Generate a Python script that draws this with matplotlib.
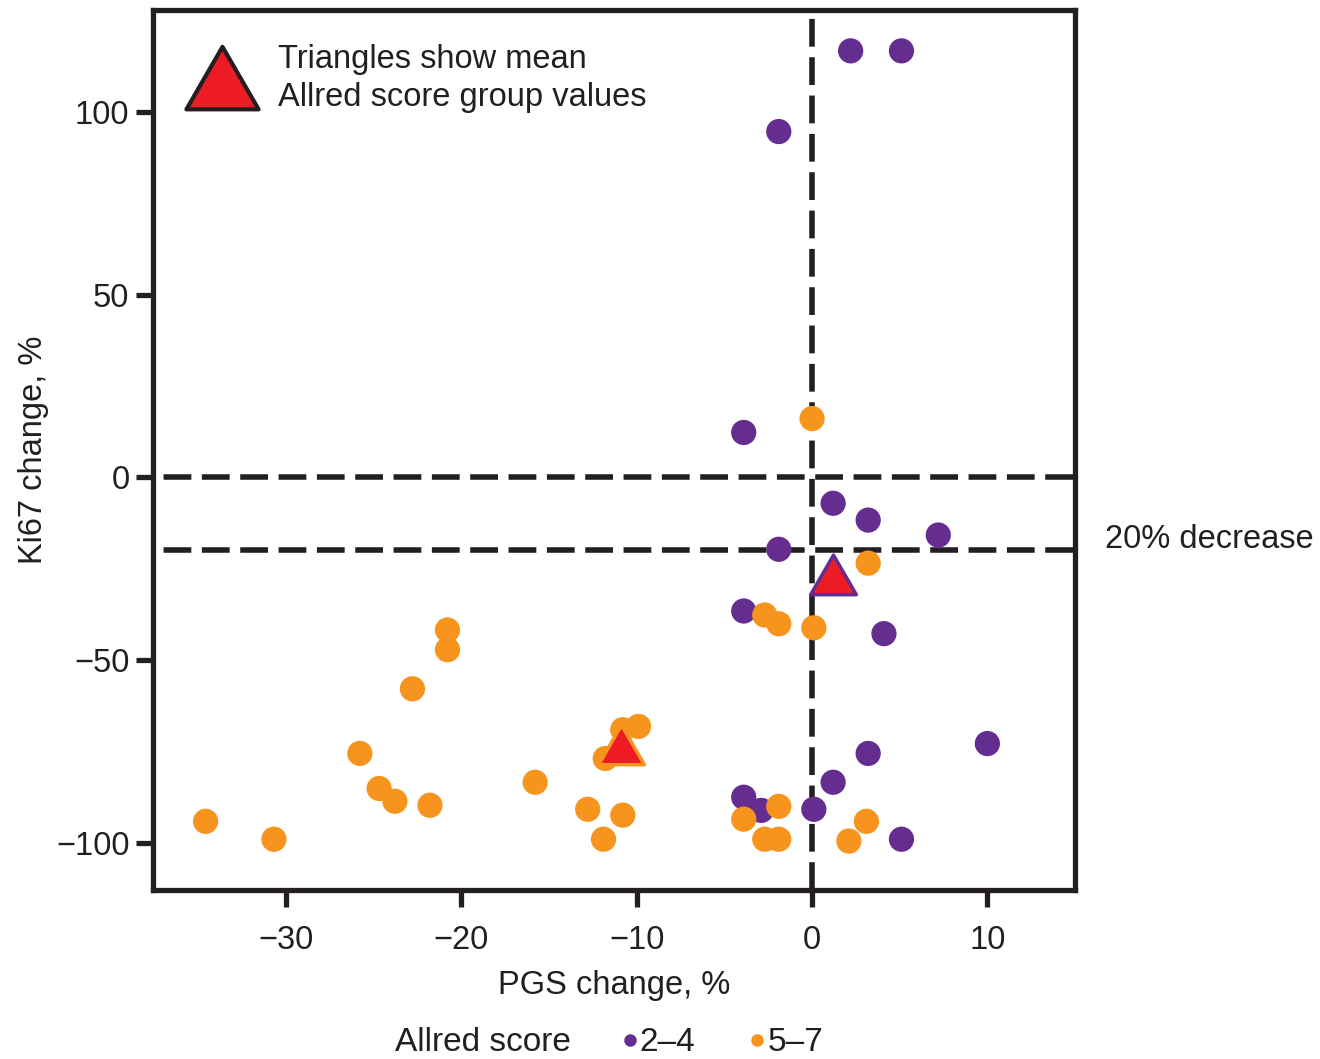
import matplotlib
matplotlib.use('Agg')
import matplotlib.pyplot as plt
from matplotlib.lines import Line2D
from matplotlib.path import Path
import matplotlib.transforms as mtransforms

plt.rcParams['font.family'] = ['Liberation Sans', 'DejaVu Sans']

# Allred score 2-4 (purple)
low_pgs = [2.2, 5.1, -1.9, -3.9, 1.2, 3.2, 7.2, -1.9, -3.9, 4.1, 3.2, 10.0, 1.2, -3.9, -2.9, 0.1, 5.1]
low_ki67 = [116.8, 116.8, 94.7, 12.3, -7.1, -11.7, -15.8, -19.7, -36.6, -42.8, -75.6, -72.9, -83.5, -87.6, -91.2, -90.9, -99.1]

# Allred score 5-7 (orange)
high_pgs = [0.0, 3.2, -2.7, -1.9, 0.1, -20.8, -20.8, -22.8, -25.8, -24.7, -23.8, -21.8, -15.8, -34.6,
            -30.7, -12.8, -11.9, -10.8, -10.8, -9.9, -11.8, -3.9, -1.9, -2.7, -1.9, 3.1, 2.1]
high_ki67 = [16.1, -23.5, -37.7, -40.1, -41.2, -41.8, -47.2, -57.9, -75.6, -85.2, -88.7, -89.8, -83.5, -94.2,
             -99.1, -90.9, -99.1, -92.5, -69.1, -68.2, -77.0, -93.6, -90.1, -99.1, -99.1, -94.2, -99.6]

# group means
mean_low = (1.2, -28.5)
mean_high = (-10.9, -75.0)

purple = '#662d91'
orange = '#f7941d'
red = '#ed1c24'
black = '#231f20'

# equilateral triangle marker (centroid at origin)
tri = Path([(0, 1), (-0.866, -0.5), (0.866, -0.5), (0, 1)],
           [Path.MOVETO, Path.LINETO, Path.LINETO, Path.CLOSEPOLY])

fig = plt.figure(figsize=(13.2, 10.59), dpi=100)
ax = fig.add_axes([0.1159, 0.1596, 0.6985, 0.831])

ax.axvline(0, color=black, lw=4, ls=(0, (5, 1.9)), zorder=1)
ax.axhline(0, color=black, lw=4, ls=(5, (5, 1.9)), zorder=1)
ax.axhline(-20, color=black, lw=4, ls=(5, (5, 1.9)), zorder=1)

ax.scatter(low_pgs, low_ki67, s=330, c=purple, edgecolors='none', zorder=2)
ax.scatter(high_pgs, high_ki67, s=330, c=orange, edgecolors='none', zorder=2)

ax.plot(*mean_low, marker=tri, ms=38, mfc=red, mec=purple, mew=2.5, ls='none', zorder=3)
ax.plot(*mean_high, marker=tri, ms=38, mfc=red, mec=orange, mew=2.5, ls='none', zorder=3)

ax.set_xlim(-37.6, 15.0)
ax.set_ylim(-113, 128)
ax.set_xticks([-30, -20, -10, 0, 10])
ax.set_yticks([-100, -50, 0, 50, 100])

for sp in ax.spines.values():
    sp.set_linewidth(3.8)
    sp.set_color(black)
ax.tick_params(axis='both', direction='out', length=12, width=3.8, color=black,
               labelsize=23.5, labelcolor=black, pad=5)
ax.tick_params(axis='x', pad=13)

ax.set_xlabel('PGS change, %', fontsize=23.5, color=black, labelpad=10)
ax.set_ylabel('Ki67 change, %', fontsize=23.5, color=black, labelpad=5)

# top-left note (legend glyph + text)
ax.plot([0.0748], [0.9114], transform=ax.transAxes, marker=tri, ms=60, mfc=red, mec=black,
        mew=3, ls='none', clip_on=False, zorder=4)
ax.text(0.1356, 0.9222, 'Triangles show mean\nAllred score group values', transform=ax.transAxes,
        fontsize=23.5, color=black, ha='left', va='center', linespacing=1.3)

# label for the -20% line
trans = mtransforms.blended_transform_factory(ax.transAxes, ax.transData)
ax.text(1.032, -17, '20% decrease', transform=trans, fontsize=23.5, color=black,
        ha='left', va='center', clip_on=False)

# bottom legend
fig.text(0.299, 0.0152, 'Allred score', fontsize=24, color=black, ha='left', va='center')
leg_handles = [Line2D([], [], marker='o', ms=9, mfc=purple, mec='none', ls='none'),
               Line2D([], [], marker='o', ms=9, mfc=orange, mec='none', ls='none')]
fig.legend(leg_handles, ['2\u20134', '5\u20137'], loc='center left', bbox_to_anchor=(0.472, 0.0152),
           ncol=2, frameon=False, fontsize=24, handlelength=0.4, handletextpad=0.1,
           columnspacing=1.66, borderaxespad=0, borderpad=0, labelcolor=black)

fig.savefig('out.png', dpi=100)
